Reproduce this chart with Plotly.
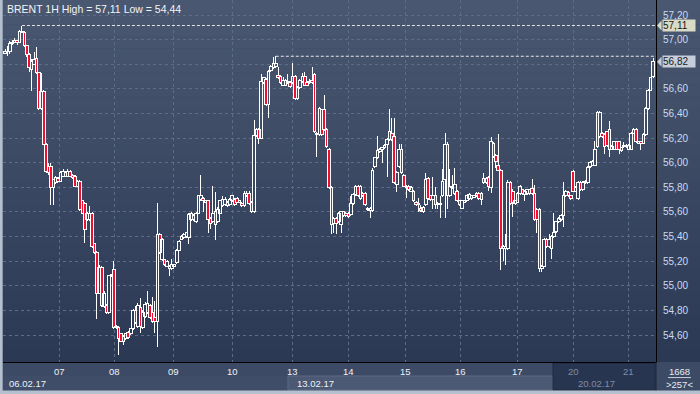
import plotly.graph_objects as go

# ---------------- data (hourly candles) ----------------
opens = [
    56.89, 56.90, 56.90, 56.97, 56.98, 56.99, 56.98, 57.07, 57.06, 56.95,
    56.88, 56.76, 56.80, 56.85, 56.73, 56.44, 56.58, 56.15, 55.97, 55.97,
    55.80, 55.84, 55.87, 55.85, 55.89, 55.92, 55.89, 55.93, 55.90, 55.89,
    55.81, 55.85, 55.69, 55.67, 55.54, 55.54, 55.59, 55.34, 55.27, 54.94,
    55.15, 54.83, 54.84, 54.78, 55.08, 55.13, 54.67, 54.66, 54.61, 54.59,
    54.57, 54.62, 54.61, 54.65, 54.80, 54.67, 54.82, 54.66, 54.75, 54.78,
    54.84, 54.78, 54.74, 54.71, 55.42, 55.21, 55.21, 55.16, 55.14, 55.14,
    55.16, 55.19, 55.29, 55.38, 55.39, 55.40, 55.39, 55.54, 55.57, 55.52,
    55.59, 55.70, 55.71, 55.68, 55.69, 55.55, 55.52, 55.60, 55.52, 55.59,
    55.65, 55.66, 55.68, 55.66, 55.69, 55.70, 55.71, 55.68, 55.67, 55.65,
    55.73, 55.75, 55.68, 55.60, 56.22, 56.27, 56.20, 56.65, 56.68, 56.47,
    56.75, 56.77, 56.78, 56.71, 56.70, 56.63, 56.67, 56.65, 56.65, 56.65,
    56.70, 56.52, 56.61, 56.66, 56.70, 56.65, 56.65, 56.67, 56.72, 56.23,
    56.23, 56.43, 56.43, 56.27, 56.11, 55.80, 55.51, 55.55, 55.52, 55.50,
    55.57, 55.59, 55.59, 55.58, 55.67, 55.74, 55.81, 55.71, 55.75, 55.75,
    55.63, 55.61, 55.61, 55.97, 56.04, 56.09, 56.11, 56.12, 56.15, 56.19,
    56.24, 56.21, 55.82, 55.97, 56.11, 55.90, 55.80, 55.81, 55.77, 55.77,
    55.68, 55.67, 55.63, 55.60, 55.66, 55.87, 55.73, 55.70, 55.73, 55.66,
    55.67, 55.73, 55.86, 56.15, 55.73, 55.81, 55.75, 55.77, 55.69, 55.63,
    55.68, 55.69, 55.71, 55.73, 55.72, 55.75, 55.75, 55.75, 55.87, 55.84,
    55.88, 55.80, 56.16, 56.06, 55.98, 55.94, 55.30, 55.30, 55.30, 55.84,
    55.77, 55.67, 55.68, 55.75, 55.78, 55.74, 55.75, 55.78, 55.79, 55.75,
    55.62, 55.62, 55.14, 55.16, 55.38, 55.32, 55.30, 55.40, 55.44, 55.52,
    55.54, 55.57, 55.73, 55.76, 55.73, 55.93, 55.77, 55.71, 55.84, 55.78,
    55.84, 55.84, 55.97, 55.98, 55.98, 56.41, 56.21, 56.24, 56.23, 56.25,
    56.27, 56.13, 56.11, 56.17, 56.17, 56.10, 56.13, 56.13, 56.11, 56.11,
    56.24, 56.27, 56.16, 56.17, 56.16, 56.23, 56.44, 56.59, 56.70,
]
highs = [
    56.92, 56.95, 56.99, 57.00, 57.01, 57.00, 57.08, 57.11, 57.07, 56.96,
    56.89, 56.84, 56.90, 56.94, 56.74, 56.73, 56.59, 56.16, 56.00, 56.00,
    55.87, 55.89, 55.88, 55.93, 55.95, 55.93, 55.95, 55.94, 55.91, 55.90,
    55.86, 55.86, 55.70, 55.68, 55.60, 55.65, 55.60, 55.35, 55.28, 55.17,
    55.16, 54.96, 54.85, 55.09, 55.10, 55.20, 54.68, 54.67, 54.62, 54.60,
    54.62, 54.63, 54.66, 54.81, 54.84, 54.86, 54.90, 54.80, 54.87, 54.96,
    54.85, 54.91, 54.88, 55.67, 55.43, 55.39, 55.22, 55.21, 55.17, 55.22,
    55.18, 55.30, 55.37, 55.41, 55.43, 55.44, 55.59, 55.60, 55.58, 55.60,
    55.74, 55.90, 55.72, 55.70, 55.70, 55.56, 55.81, 55.76, 55.64, 55.70,
    55.73, 55.72, 55.69, 55.71, 55.74, 55.71, 55.72, 55.70, 55.68, 55.77,
    55.77, 55.77, 55.69, 56.35, 56.28, 56.28, 56.72, 56.70, 56.69, 56.75,
    56.79, 56.86, 56.87, 56.78, 56.71, 56.70, 56.68, 56.72, 56.66, 56.81,
    56.71, 56.62, 56.68, 56.73, 56.74, 56.66, 56.68, 56.78, 56.73, 56.25,
    56.45, 56.44, 56.55, 56.28, 56.12, 55.81, 55.56, 55.56, 55.60, 55.61,
    55.61, 55.60, 55.60, 55.73, 55.75, 55.82, 55.82, 55.82, 55.76, 55.76,
    55.64, 55.64, 55.96, 56.05, 56.22, 56.12, 56.13, 56.15, 56.20, 56.44,
    56.36, 56.36, 55.93, 56.15, 56.15, 55.91, 55.82, 55.82, 55.81, 55.78,
    55.69, 55.71, 55.66, 55.65, 55.92, 55.88, 55.74, 55.88, 55.80, 55.68,
    55.73, 55.95, 56.24, 56.17, 55.95, 55.90, 55.96, 55.78, 55.70, 55.70,
    55.70, 55.74, 55.75, 55.74, 55.74, 55.76, 55.76, 55.76, 55.92, 55.88,
    55.89, 56.21, 56.17, 56.07, 56.23, 55.95, 55.33, 55.42, 55.86, 55.85,
    55.79, 55.70, 55.76, 55.82, 55.79, 55.78, 55.79, 55.79, 55.87, 55.82,
    55.63, 55.63, 55.17, 55.39, 55.39, 55.42, 55.41, 55.59, 55.53, 55.56,
    55.58, 55.84, 55.78, 55.77, 55.74, 55.94, 55.81, 55.85, 55.85, 55.85,
    55.86, 55.97, 56.01, 56.02, 56.18, 56.42, 56.42, 56.25, 56.24, 56.26,
    56.34, 56.14, 56.18, 56.18, 56.18, 56.13, 56.17, 56.15, 56.15, 56.25,
    56.28, 56.28, 56.18, 56.18, 56.24, 56.45, 56.60, 56.70, 56.85,
]
lows = [
    56.88, 56.87, 56.88, 56.96, 56.97, 56.96, 56.97, 57.05, 56.94, 56.86,
    56.74, 56.58, 56.79, 56.72, 56.43, 56.43, 56.14, 55.92, 55.90, 55.66,
    55.66, 55.83, 55.84, 55.84, 55.88, 55.88, 55.88, 55.88, 55.87, 55.80,
    55.80, 55.61, 55.58, 55.35, 55.53, 55.53, 55.31, 55.26, 54.73, 54.93,
    54.83, 54.82, 54.77, 54.77, 55.07, 54.65, 54.65, 54.44, 54.54, 54.52,
    54.56, 54.57, 54.60, 54.64, 54.69, 54.66, 54.62, 54.65, 54.74, 54.77,
    54.73, 54.70, 54.62, 54.50, 55.26, 55.20, 55.16, 55.15, 55.08, 55.13,
    55.15, 55.18, 55.28, 55.37, 55.38, 55.39, 55.34, 55.53, 55.53, 55.51,
    55.58, 55.69, 55.60, 55.67, 55.43, 55.46, 55.51, 55.37, 55.51, 55.58,
    55.64, 55.65, 55.64, 55.65, 55.68, 55.65, 55.67, 55.67, 55.64, 55.64,
    55.72, 55.66, 55.59, 55.59, 56.21, 56.15, 56.19, 56.64, 56.46, 56.36,
    56.74, 56.76, 56.77, 56.68, 56.64, 56.62, 56.62, 56.64, 56.61, 56.64,
    56.51, 56.51, 56.60, 56.65, 56.62, 56.62, 56.64, 56.64, 56.24, 56.05,
    56.22, 56.22, 56.26, 56.12, 55.79, 55.42, 55.43, 55.42, 55.51, 55.43,
    55.56, 55.56, 55.55, 55.57, 55.66, 55.73, 55.72, 55.70, 55.72, 55.65,
    55.61, 55.55, 55.60, 55.96, 56.03, 56.08, 56.00, 56.11, 55.88, 56.18,
    56.18, 55.83, 55.76, 55.96, 55.91, 55.80, 55.71, 55.77, 55.76, 55.68,
    55.65, 55.60, 55.60, 55.59, 55.65, 55.70, 55.69, 55.62, 55.62, 55.62,
    55.55, 55.72, 55.55, 55.62, 55.72, 55.79, 55.74, 55.68, 55.65, 55.62,
    55.67, 55.68, 55.70, 55.70, 55.71, 55.72, 55.70, 55.66, 55.83, 55.83,
    55.77, 55.75, 56.04, 55.96, 55.93, 55.13, 55.20, 55.17, 55.29, 55.66,
    55.56, 55.66, 55.67, 55.74, 55.74, 55.69, 55.74, 55.74, 55.74, 55.53,
    55.43, 55.11, 55.11, 55.15, 55.31, 55.31, 55.22, 55.39, 55.43, 55.51,
    55.53, 55.48, 55.72, 55.72, 55.70, 55.76, 55.76, 55.70, 55.77, 55.77,
    55.83, 55.83, 55.96, 55.97, 55.97, 56.12, 56.20, 56.20, 56.07, 56.13,
    56.05, 56.10, 56.10, 56.10, 56.07, 56.09, 56.12, 56.12, 56.10, 56.10,
    56.23, 56.16, 56.15, 56.10, 56.15, 56.22, 56.43, 56.58, 56.69,
]
closes = [
    56.90, 56.90, 56.97, 56.98, 56.99, 56.98, 57.07, 57.06, 56.95, 56.88,
    56.77, 56.82, 56.84, 56.73, 56.44, 56.58, 56.15, 55.93, 55.92, 55.80,
    55.86, 55.88, 55.85, 55.92, 55.93, 55.89, 55.93, 55.89, 55.88, 55.81,
    55.85, 55.62, 55.59, 55.46, 55.59, 55.59, 55.32, 55.27, 54.94, 55.15,
    54.84, 54.94, 54.78, 55.08, 55.09, 54.66, 54.66, 54.57, 54.55, 54.55,
    54.61, 54.58, 54.65, 54.80, 54.70, 54.84, 54.67, 54.78, 54.85, 54.86,
    54.74, 54.71, 54.71, 55.42, 55.27, 55.38, 55.17, 55.20, 55.16, 55.17,
    55.17, 55.29, 55.36, 55.40, 55.42, 55.43, 55.58, 55.59, 55.54, 55.59,
    55.73, 55.73, 55.69, 55.69, 55.54, 55.51, 55.59, 55.50, 55.62, 55.69,
    55.70, 55.70, 55.65, 55.70, 55.73, 55.66, 55.68, 55.69, 55.65, 55.75,
    55.75, 55.67, 55.60, 56.22, 56.27, 56.20, 56.66, 56.69, 56.47, 56.74,
    56.78, 56.81, 56.81, 56.69, 56.65, 56.67, 56.63, 56.66, 56.62, 56.70,
    56.52, 56.61, 56.67, 56.70, 56.63, 56.63, 56.66, 56.65, 56.25, 56.24,
    56.44, 56.23, 56.27, 56.13, 55.80, 55.50, 55.55, 55.51, 55.59, 55.60,
    55.60, 55.57, 55.56, 55.67, 55.74, 55.81, 55.73, 55.81, 55.73, 55.66,
    55.62, 55.63, 55.94, 56.04, 56.10, 56.11, 56.12, 56.14, 56.19, 56.25,
    56.19, 55.84, 55.92, 56.11, 55.92, 55.81, 55.81, 55.78, 55.80, 55.69,
    55.66, 55.66, 55.61, 55.64, 55.86, 55.71, 55.70, 55.73, 55.66, 55.67,
    55.66, 55.85, 56.15, 55.73, 55.81, 55.80, 55.82, 55.69, 55.66, 55.69,
    55.69, 55.73, 55.74, 55.71, 55.73, 55.73, 55.71, 55.70, 55.84, 55.87,
    55.81, 56.17, 56.05, 56.01, 55.94, 55.30, 55.32, 55.32, 55.84, 55.67,
    55.68, 55.69, 55.75, 55.81, 55.75, 55.77, 55.78, 55.75, 55.75, 55.54,
    55.54, 55.14, 55.16, 55.38, 55.32, 55.38, 55.40, 55.43, 55.52, 55.55,
    55.57, 55.73, 55.77, 55.73, 55.71, 55.77, 55.80, 55.84, 55.78, 55.84,
    55.85, 55.96, 56.00, 56.01, 56.11, 56.13, 56.41, 56.21, 56.13, 56.14,
    56.11, 56.11, 56.17, 56.11, 56.11, 56.12, 56.14, 56.14, 56.14, 56.24,
    56.27, 56.17, 56.17, 56.16, 56.23, 56.44, 56.59, 56.69, 56.82,
]

day_ticks = [22.5, 45.3, 69.5, 93.9, 118.9, 141.9, 165.8, 188.3, 212.1, 235.0, 257.9]
day_labels = ["07", "08", "09", "10", "13", "14", "15", "16", "17", "20", "21"]
week_labels = ["06.02.17", "13.02.17", "20.02.17"]
price_ticks = [54.6, 54.8, 55.0, 55.2, 55.4, 55.6, 55.8, 56.0, 56.2, 56.4, 56.6, 56.8, 57.0, 57.2]
# the 56,80 label is hidden behind the last-price marker in the reference
price_labels = ["54,60", "54,80", "55,00", "55,20", "55,40", "55,60", "55,80",
                "56,00", "56,20", "56,40", "56,60", "", "57,00", "57,20"]
title_text = "BRENT 1H High = 57,11 Low = 54,44"
high_value, high_label, high_index = 57.115, "57,11", 7
last_value, last_label, last_line, last_line_index = 56.82, "56,82", 56.865, 112
bar_count_text, zoom_text = "1668", "&gt;257&lt;"

# ---------------- figure ----------------
FONT = "Liberation Sans, Arial, sans-serif"
RED = "#ee1030"
xs = list(range(len(closes)))
x_lo, x_hi = -0.83, 269.24
y_lo, y_hi = 54.381, 57.322

body_base = [min(o, c) for o, c in zip(opens, closes)]
body_len = [max(abs(c - o), 0.004) for o, c in zip(opens, closes)]
body_fill = [RED if c < o else "rgba(0,0,0,0)" for o, c in zip(opens, closes)]

wick_x, wick_y = [], []
for x, o, h, l, c in zip(xs, opens, highs, lows, closes):
    wick_x += [x, x, None, x, x, None]
    wick_y += [h, max(o, c), None, min(o, c), l, None]

fig = go.Figure()
fig.add_trace(go.Scatter(x=wick_x, y=wick_y, mode="lines",
                         line=dict(color="#ffffff", width=1),
                         hoverinfo="skip", showlegend=False))
fig.add_trace(go.Bar(x=xs, y=body_len, base=body_base, width=1.1,
                     marker=dict(color=body_fill, line=dict(color="#ffffff", width=1)),
                     hoverinfo="skip", showlegend=False))

shapes = []
top = (73, 87, 112)
bot = (43, 57, 85)
n = 30
for i in range(n):
    t = i / (n - 1)
    col = tuple(round(top[k] + (bot[k] - top[k]) * t) for k in range(3))
    shapes.append(dict(type="rect", xref="paper", yref="paper", layer="below",
                       x0=-0.01, x1=1.07, y0=1 - (i + 1) / n, y1=1 - i / n,
                       fillcolor="rgb(%d,%d,%d)" % col, line=dict(width=0)))
shapes.append(dict(type="rect", xref="paper", yref="paper", layer="below",
                   x0=-0.01, x1=1.07, y0=-0.09, y1=0, fillcolor="#3c4a65", line=dict(width=0)))
shapes.append(dict(type="rect", xref="paper", yref="paper", layer="below",
                   x0=0.0, x1=0.4364, y0=-0.0773, y1=-0.0387, fillcolor="#3f4d68",
                   line=dict(width=0)))
shapes.append(dict(type="rect", xref="paper", yref="paper", layer="below",
                   x0=0.4364, x1=0.8423, y0=-0.0773, y1=-0.0387, fillcolor="#4b5974",
                   line=dict(color="#5d6b84", width=1)))
shapes.append(dict(type="rect", xref="paper", yref="paper", layer="below",
                   x0=0.8423, x1=0.9985, y0=-0.0773, y1=-0.003, fillcolor="#283550",
                   line=dict(color="#1f2a40", width=1)))
shapes.append(dict(type="rect", xref="paper", yref="paper", layer="above",
                   x0=-0.0046, x1=-0.0005, y0=-0.09, y1=1, fillcolor="#b4c0cd", line=dict(width=0)))
shapes.append(dict(type="rect", xref="paper", yref="paper", layer="above",
                   x0=-0.0046, x1=1.07, y0=-0.09, y1=-0.0785, fillcolor="#b4c0cd", line=dict(width=0)))
shapes.append(dict(type="line", xref="paper", yref="paper", layer="above",
                   x0=1.0, x1=1.0, y0=-0.0785, y1=0, line=dict(color="#1c2638", width=1)))
shapes.append(dict(type="line", xref="paper", yref="paper", layer="above",
                   x0=1.0184, x1=1.0536, y0=-0.043, y1=-0.043, line=dict(color="#c8d0dc", width=1)))
shapes.append(dict(type="line", xref="x", yref="y", layer="above",
                   x0=high_index, x1=x_hi, y0=high_value, y1=high_value,
                   line=dict(color="#e6e6e6", width=1, dash="3px,2px")))
shapes.append(dict(type="line", xref="x", yref="y", layer="above",
                   x0=last_line_index, x1=x_hi, y0=last_line, y1=last_line,
                   line=dict(color="#e6e6e6", width=1, dash="3px,2px")))
for v, col in ((high_value, "#d9dbc6"), (last_value, "#c6cedb")):
    shapes.append(dict(type="path", xref="paper", yref="y", layer="above",
                       path="M 1.0015 %f L 1.0085 %f L 1.0085 %f Z" % (v, v + 0.04, v - 0.04),
                       fillcolor=col, line=dict(width=0)))

annotations = [
    dict(text=title_text, xref="paper", yref="paper", x=0.003, y=0.975,
         xanchor="left", yanchor="middle", showarrow=False,
         font=dict(family=FONT, size=10.5, color="#f2f5f9")),
    dict(text=high_label, xref="paper", yref="y", x=1.0085, y=high_value,
         xanchor="left", yanchor="middle", showarrow=False, bgcolor="#d9dbc6",
         width=32, height=11, borderpad=0, align="left",
         font=dict(family=FONT, size=10, color="#1a1a1a")),
    dict(text=last_label, xref="paper", yref="y", x=1.0085, y=last_value,
         xanchor="left", yanchor="middle", showarrow=False, bgcolor="#c6cedb",
         width=32, height=11, borderpad=0, align="left",
         font=dict(family=FONT, size=10, color="#1a1a1a")),
    dict(text=bar_count_text, xref="paper", yref="paper", x=1.036, y=-0.025,
         xanchor="center", yanchor="middle", showarrow=False,
         font=dict(family=FONT, size=9.5, color="#e6ecf4")),
    dict(text=zoom_text, xref="paper", yref="paper", x=1.036, y=-0.062,
         xanchor="center", yanchor="middle", showarrow=False,
         font=dict(family=FONT, size=9.5, color="#e6ecf4")),
]
for tv, tl in zip(day_ticks, day_labels):
    dim = tv >= day_ticks[9]
    annotations.append(dict(text=tl, xref="x", yref="paper", x=tv, y=-0.027,
                            xanchor="center", yanchor="middle", showarrow=False,
                            font=dict(family=FONT, size=9.5,
                                      color="#7f8ca4" if dim else "#eef2f7")))
week_x = [0.0, day_ticks[4], day_ticks[9]]
for i, (wl, wx) in enumerate(zip(week_labels, week_x)):
    annotations.append(dict(text=wl, xref="x", yref="paper", x=wx, y=-0.059,
                            xanchor="left", yanchor="middle", showarrow=False,
                            xshift=3 if i else 2,
                            font=dict(family=FONT, size=9.5,
                                      color="#7f8ca4" if i == 2 else "#eef2f7")))

fig.update_layout(
    width=700, height=394,
    margin=dict(l=3, r=44, t=0, b=32, pad=0),
    paper_bgcolor="#3c4a65", plot_bgcolor="rgba(0,0,0,0)",
    font=dict(family=FONT),
    barmode="overlay",
    xaxis=dict(range=[x_lo, x_hi], tickvals=day_ticks, showticklabels=False, ticks="",
               showgrid=True, gridcolor="#5c6c89", gridwidth=1, griddash="3px,3px",
               zeroline=False, showline=True, linecolor="#000000", linewidth=1,
               fixedrange=True),
    yaxis=dict(range=[y_lo, y_hi], side="right", tickvals=price_ticks, ticktext=price_labels,
               ticks="", ticklabelstandoff=4,
               tickfont=dict(family=FONT, size=10, color="#c9dbf0"),
               showgrid=True, gridcolor="#5c6c89", gridwidth=1, griddash="3px,3px",
               zeroline=False, showline=True, linecolor="#000000", linewidth=1,
               fixedrange=True),
    shapes=shapes, annotations=annotations,
)

crisp = ("var s=document.createElement('style');"
         "s.innerHTML='.scatterlayer path,.barlayer path{shape-rendering:crispEdges}';"
         "document.head.appendChild(s);")
fig.write_html("out.html", post_script=crisp)
